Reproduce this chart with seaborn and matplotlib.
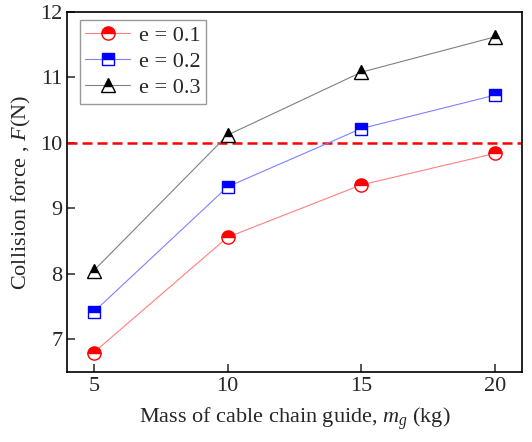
import matplotlib
matplotlib.use("Agg")
import matplotlib.pyplot as plt
import seaborn as sns

# values
mass = [5, 10, 15, 20]
force_e01 = [6.80, 8.56, 9.36, 9.84]
force_e02 = [7.42, 9.33, 10.22, 10.73]
force_e03 = [8.05, 10.12, 11.08, 11.62]
series_labels = ["e = 0.1", "e = 0.2", "e = 0.3"]
threshold = 10

sns.set_style("ticks")
plt.rcParams["font.family"] = ["Liberation Serif", "DejaVu Serif"]
plt.rcParams["mathtext.fontset"] = "custom"
plt.rcParams["mathtext.rm"] = "Liberation Serif"
plt.rcParams["mathtext.it"] = "Liberation Serif:italic"

fig, ax = plt.subplots(figsize=(5.32, 4.42), dpi=100)
fig.subplots_adjust(left=0.126, right=0.981, bottom=0.158, top=0.973)

styles = [
    (force_e01, "o", "red", "#ff8080", 9.5),
    (force_e02, "s", "blue", "#8080ff", 8.5),
    (force_e03, "^", "black", "#808080", 10.5),
]
for (vals, mk, col, lcol, ms), lab in zip(styles, series_labels):
    sns.lineplot(x=mass, y=vals, ax=ax, color=lcol, lw=0.8, marker=mk,
                 markersize=ms, fillstyle="top", markerfacecolor=col,
                 markerfacecoloralt="white", markeredgecolor=col,
                 markeredgewidth=1.0, label=lab)

ax.axhline(threshold, color="red", ls=(0, (4, 2)), lw=1.8, zorder=1)

ax.set_xlim(4, 21)
ax.set_ylim(6.5, 12)
ax.set_xticks([5, 10, 15, 20])
ax.set_yticks([7, 8, 9, 10, 11, 12])
ax.tick_params(direction="in", length=5.5, width=1.1, labelsize=16)
for sp in ax.spines.values():
    sp.set_visible(True)
    sp.set_linewidth(1.2)
    sp.set_color("black")

ax.set_xlabel("Mass of cable chain guide, $m_g$ (kg)", fontsize=16, labelpad=7)
ax.set_ylabel("Collision force , $F$(N)", fontsize=16, labelpad=5)

leg = ax.legend(loc="upper left", fontsize=16, fancybox=False, edgecolor="#999999",
                framealpha=1, handlelength=2.0, borderpad=0.25, labelspacing=0.25,
                handletextpad=0.4, borderaxespad=0, bbox_to_anchor=(0.028, 0.978))
leg.get_frame().set_linewidth(1.0)

fig.savefig("out.png", dpi=100)
